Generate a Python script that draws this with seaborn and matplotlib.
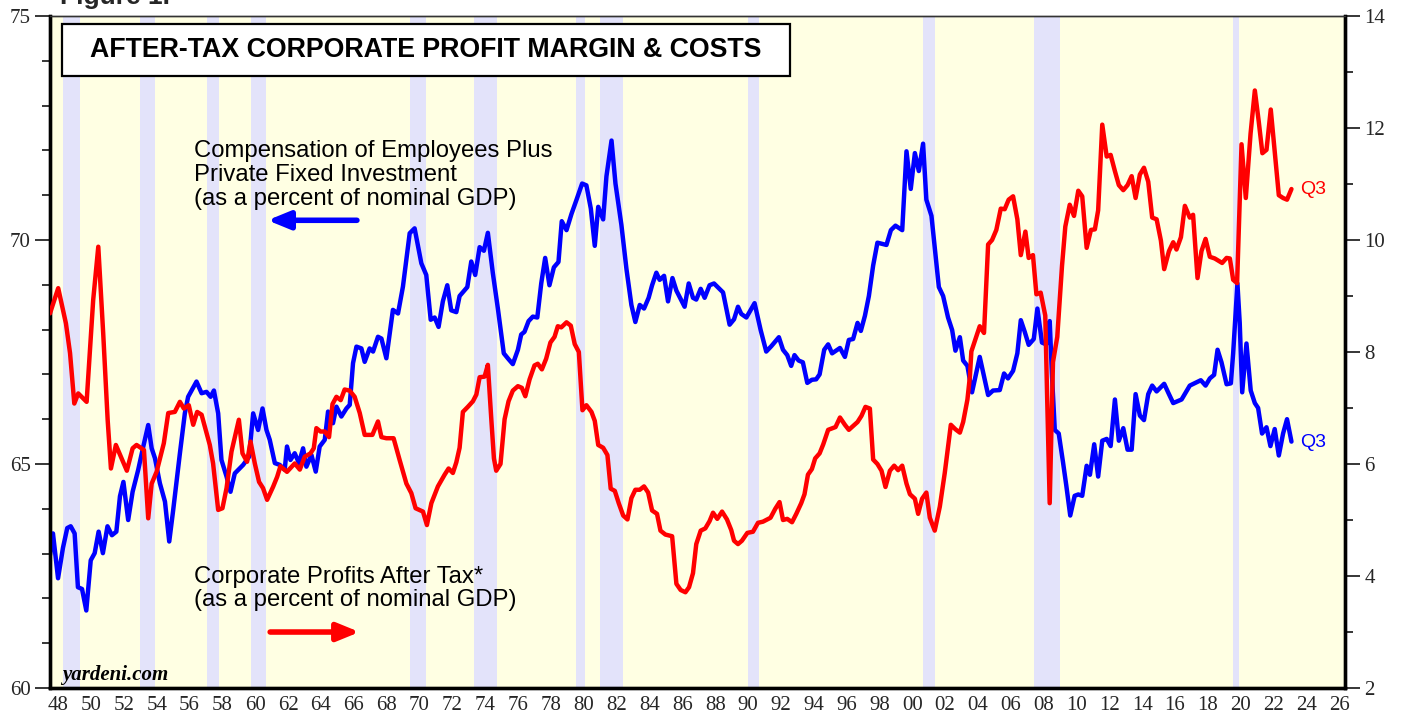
import matplotlib
matplotlib.use("Agg")
import matplotlib.pyplot as plt
from matplotlib.patches import Rectangle
from matplotlib.ticker import MultipleLocator
import seaborn as sns

# Compensation of employees + private fixed investment, % of GDP (left axis)
blue_years = [1948.0, 1948.18, 1948.49, 1948.79, 1949.05, 1949.26, 1949.5, 1949.7, 1949.95, 1950.21,
              1950.48, 1950.72, 1950.96, 1951.22, 1951.5, 1951.77, 1952.04, 1952.26, 1952.47, 1952.76,
              1953.03, 1953.37, 1953.68, 1953.98, 1954.19, 1954.39, 1954.69, 1955.0, 1955.26, 1955.5,
              1955.91, 1956.21, 1956.41, 1956.92, 1957.23, 1957.53, 1957.78, 1957.98, 1958.24, 1958.44,
              1958.75, 1958.99, 1959.25, 1959.76, 1960.12, 1960.37, 1960.67, 1960.94, 1961.18, 1961.38,
              1961.69, 1961.99, 1962.29, 1962.43, 1962.64, 1962.9, 1963.16, 1963.41, 1963.61, 1963.92,
              1964.18, 1964.42, 1964.73, 1964.93, 1965.23, 1965.44, 1965.74, 1966.05, 1966.25, 1966.45,
              1966.66, 1966.96, 1967.16, 1967.46, 1967.67, 1967.97, 1968.18, 1968.48, 1968.88, 1969.19,
              1969.49, 1969.9, 1970.2, 1970.61, 1970.91, 1971.18, 1971.42, 1971.66, 1971.92, 1972.19,
              1972.43, 1972.74, 1972.94, 1973.41, 1973.65, 1973.89, 1974.16, 1974.42, 1974.66, 1974.96,
              1975.27, 1975.63, 1975.92, 1976.18, 1976.49, 1976.69, 1976.89, 1977.14, 1977.4, 1977.67,
              1977.91, 1978.15, 1978.41, 1978.68, 1978.96, 1979.16, 1979.45, 1979.75, 1980.06, 1980.4,
              1980.66, 1980.93, 1981.17, 1981.38, 1981.68, 1981.88, 1982.19, 1982.43, 1982.79, 1983.1,
              1983.4, 1983.64, 1983.91, 1984.17, 1984.45, 1984.66, 1984.92, 1985.12, 1985.39, 1985.63,
              1985.9, 1986.14, 1986.64, 1986.89, 1987.15, 1987.35, 1987.62, 1987.86, 1988.16, 1988.43,
              1988.98, 1989.38, 1989.65, 1989.89, 1990.09, 1990.4, 1990.9, 1991.27, 1991.61, 1991.92,
              1992.38, 1992.63, 1992.89, 1993.13, 1993.33, 1993.58, 1993.84, 1994.11, 1994.39, 1994.65,
              1994.86, 1995.14, 1995.38, 1995.62, 1996.1, 1996.4, 1996.64, 1996.9, 1997.17, 1997.37,
              1997.62, 1997.86, 1998.12, 1998.38, 1998.93, 1999.2, 1999.48, 1999.89, 2000.15, 2000.41,
              2000.66, 2000.9, 2001.16, 2001.36, 2001.67, 2002.12, 2002.38, 2002.68, 2002.93, 2003.13,
              2003.4, 2003.6, 2003.86, 2004.14, 2004.61, 2005.12, 2005.42, 2005.83, 2006.09, 2006.33,
              2006.64, 2006.9, 2007.11, 2007.35, 2007.59, 2007.9, 2008.12, 2008.4, 2008.66, 2008.87,
              2009.01, 2009.18, 2009.42, 2009.68, 2009.88, 2010.12, 2010.39, 2010.61, 2010.85, 2011.12,
              2011.32, 2011.58, 2011.82, 2012.07, 2012.34, 2012.58, 2012.84, 2013.08, 2013.35, 2013.61,
              2013.86, 2014.1, 2014.36, 2014.61, 2014.87, 2015.11, 2015.38, 2015.84, 2016.13, 2016.39,
              2016.9, 2017.4, 2018.07, 2018.36, 2018.62, 2018.88, 2019.09, 2019.33, 2019.64, 2019.9,
              2020.04, 2020.3, 2020.44, 2020.59, 2020.85, 2021.11, 2021.36, 2021.56, 2021.8, 2022.07,
              2022.31, 2022.57, 2022.82, 2023.08, 2023.32, 2023.59]
blue_vals = [62.97, 63.45, 62.45, 63.13, 63.57, 63.61, 63.45, 62.25, 62.21, 61.73,
             62.85, 63.01, 63.49, 63.01, 63.61, 63.41, 63.49, 64.28, 64.6, 63.75,
             64.38, 64.87, 65.39, 65.87, 65.35, 65.13, 64.57, 64.16, 63.27, 63.97,
             65.24, 66.13, 66.5, 66.84, 66.58, 66.61, 66.5, 66.64, 66.13, 65.09,
             64.72, 64.38, 64.79, 64.98, 65.16, 66.13, 65.76, 66.24, 65.76, 65.54,
             65.02, 64.98, 64.87, 65.39, 65.09, 65.24, 65.02, 65.35, 64.94, 65.2,
             64.83, 65.39, 65.54, 66.17, 65.91, 66.28, 66.06, 66.24, 66.32, 67.25,
             67.62, 67.58, 67.28, 67.58, 67.51, 67.84, 67.8, 67.36, 68.44, 68.36,
             68.96, 70.15, 70.26, 69.48, 69.22, 68.22, 68.27, 68.06, 68.63, 68.99,
             68.43, 68.39, 68.75, 68.95, 69.52, 69.22, 69.84, 69.76, 70.16, 69.27,
             68.47, 67.47, 67.34, 67.23, 67.55, 67.89, 67.95, 68.19, 68.29, 68.27,
             69.03, 69.6, 68.99, 69.39, 69.51, 70.42, 70.22, 70.58, 70.9, 71.26,
             71.22, 70.7, 69.87, 70.74, 70.46, 71.42, 72.22, 71.26, 70.34, 69.35,
             68.55, 68.17, 68.55, 68.47, 68.71, 68.99, 69.27, 69.11, 69.2, 68.63,
             69.15, 68.87, 68.51, 69.03, 68.71, 68.67, 68.91, 68.71, 68.99, 69.03,
             68.83, 68.11, 68.23, 68.51, 68.35, 68.27, 68.59, 67.99, 67.51, 67.63,
             67.83, 67.55, 67.43, 67.19, 67.43, 67.31, 67.27, 66.81, 66.88, 66.89,
             67.0, 67.55, 67.67, 67.47, 67.59, 67.39, 67.77, 67.79, 68.15, 67.97,
             68.31, 68.75, 69.43, 69.94, 69.89, 70.22, 70.32, 70.22, 71.98, 71.14,
             71.94, 71.54, 72.15, 70.9, 70.54, 68.95, 68.75, 68.27, 67.99, 67.53,
             67.83, 67.31, 67.19, 66.6, 67.39, 66.54, 66.64, 66.65, 67.02, 66.91,
             67.08, 67.47, 68.21, 67.95, 67.66, 67.79, 68.47, 67.71, 67.67, 68.19,
             66.96, 65.76, 65.68, 65.04, 64.52, 63.85, 64.29, 64.32, 64.29, 64.96,
             64.76, 65.44, 64.72, 65.52, 65.56, 65.4, 66.44, 65.52, 65.8, 65.32,
             65.32, 66.56, 66.08, 65.98, 66.56, 66.75, 66.62, 66.79, 66.56, 66.36,
             66.44, 66.75, 66.87, 66.75, 66.91, 66.99, 67.55, 67.27, 66.78, 66.8,
             67.47, 69.03, 68.15, 66.6, 67.69, 66.64, 66.36, 66.25, 65.68, 65.82,
             65.4, 65.78, 65.19, 65.68, 66.0, 65.5]

# Corporate profits after tax, % of GDP (right axis)
red_years = [1948.0, 1948.5, 1948.97, 1949.22, 1949.48, 1949.72, 1950.23, 1950.63, 1950.94, 1951.24,
             1951.51, 1951.71, 1952.01, 1952.68, 1953.03, 1953.27, 1953.72, 1953.98, 1954.19, 1954.49,
             1954.93, 1955.2, 1955.6, 1955.91, 1956.15, 1956.45, 1956.72, 1956.96, 1957.23, 1957.73,
             1957.93, 1958.24, 1958.5, 1958.75, 1959.05, 1959.5, 1959.72, 1960.0, 1960.21, 1960.47,
             1960.73, 1960.97, 1961.22, 1961.58, 1961.83, 1962.03, 1962.43, 1962.9, 1963.21, 1963.51,
             1963.86, 1964.06, 1964.22, 1964.47, 1964.73, 1964.99, 1965.2, 1965.44, 1965.7, 1965.94,
             1966.25, 1966.55, 1966.86, 1967.16, 1967.63, 1967.97, 1968.18, 1968.48, 1968.92, 1969.29,
             1969.7, 1970.0, 1970.26, 1970.71, 1970.95, 1971.22, 1971.62, 1972.03, 1972.27, 1972.53,
             1972.74, 1972.94, 1973.14, 1973.44, 1973.75, 1973.96, 1974.16, 1974.46, 1974.66, 1974.87,
             1975.03, 1975.17, 1975.43, 1975.68, 1975.92, 1976.18, 1976.49, 1976.73, 1976.94, 1977.2,
             1977.5, 1977.7, 1977.95, 1978.21, 1978.47, 1978.72, 1978.92, 1979.13, 1979.45, 1979.71,
             1979.95, 1980.2, 1980.32, 1980.42, 1980.66, 1980.97, 1981.17, 1981.38, 1981.68, 1981.94,
             1982.14, 1982.39, 1982.63, 1982.9, 1983.16, 1983.4, 1983.64, 1983.91, 1984.17, 1984.42,
             1984.66, 1984.96, 1985.17, 1985.47, 1985.88, 1986.14, 1986.4, 1986.69, 1986.91, 1987.15,
             1987.35, 1987.62, 1987.9, 1988.16, 1988.37, 1988.63, 1988.92, 1989.22, 1989.48, 1989.65,
             1989.89, 1990.13, 1990.46, 1990.8, 1991.11, 1991.41, 1991.87, 1992.16, 1992.42, 1992.63,
             1992.89, 1993.18, 1993.44, 1993.74, 1993.94, 1994.15, 1994.39, 1994.59, 1994.86, 1995.08,
             1995.38, 1995.83, 1996.1, 1996.4, 1996.64, 1997.17, 1997.41, 1997.65, 1997.92, 1998.12,
             1998.38, 1998.63, 1998.87, 1999.14, 1999.4, 1999.64, 1999.89, 2000.15, 2000.36, 2000.66,
             2000.86, 2001.1, 2001.36, 2001.57, 2001.87, 2002.18, 2002.48, 2002.85, 2003.13, 2003.4,
             2003.6, 2003.86, 2004.01, 2004.1, 2004.35, 2004.61, 2004.87, 2005.12, 2005.36, 2005.62,
             2005.89, 2006.13, 2006.37, 2006.64, 2006.9, 2007.11, 2007.39, 2007.59, 2007.85, 2008.06,
             2008.32, 2008.6, 2008.72, 2008.87, 2009.07, 2009.33, 2009.62, 2009.82, 2010.09, 2010.35,
             2010.61, 2010.85, 2011.12, 2011.38, 2011.62, 2011.82, 2012.07, 2012.34, 2012.58, 2012.84,
             2013.08, 2013.35, 2013.61, 2013.86, 2014.1, 2014.36, 2014.61, 2014.87, 2015.11, 2015.38,
             2015.64, 2015.84, 2016.13, 2016.39, 2016.59, 2016.86, 2017.1, 2017.4, 2017.6, 2017.87,
             2018.11, 2018.36, 2018.62, 2018.92, 2019.37, 2019.64, 2019.84, 2020.04, 2020.28, 2020.55,
             2020.81, 2021.1, 2021.36, 2021.6, 2021.82, 2022.07, 2022.33, 2022.57, 2022.82, 2023.08,
             2023.32, 2023.59]
red_vals = [8.69, 9.14, 8.51, 7.98, 7.08, 7.26, 7.11, 8.93, 9.88, 8.33,
            6.79, 5.92, 6.34, 5.88, 6.28, 6.34, 6.25, 5.03, 5.65, 5.86,
            6.37, 6.91, 6.93, 7.11, 6.99, 7.05, 6.7, 6.93, 6.88, 6.34,
            6.01, 5.18, 5.21, 5.57, 6.22, 6.79, 6.19, 6.04, 6.4, 6.01,
            5.68, 5.57, 5.36, 5.59, 5.77, 5.96, 5.86, 6.01, 5.9, 6.13,
            6.19, 6.28, 6.64, 6.58, 6.58, 6.48, 7.07, 7.2, 7.14, 7.33,
            7.31, 7.2, 6.91, 6.52, 6.52, 6.76, 6.48, 6.46, 6.46, 6.07,
            5.65, 5.48, 5.21, 5.15, 4.91, 5.3, 5.6, 5.81, 5.92, 5.84,
            6.03, 6.29, 6.93, 7.02, 7.12, 7.24, 7.55, 7.56, 7.77, 6.8,
            6.1, 5.88, 6.0, 6.8, 7.12, 7.31, 7.39, 7.36, 7.21, 7.51,
            7.76, 7.79, 7.69, 7.88, 8.17, 8.27, 8.46, 8.44, 8.53, 8.47,
            8.14, 8.0, 7.44, 6.96, 7.05, 6.93, 6.77, 6.34, 6.29, 6.16,
            5.56, 5.52, 5.3, 5.08, 5.01, 5.39, 5.54, 5.54, 5.6, 5.49,
            5.17, 5.11, 4.81, 4.74, 4.71, 3.86, 3.75, 3.71, 3.8, 4.05,
            4.57, 4.81, 4.85, 4.98, 5.13, 5.02, 5.15, 5.01, 4.82, 4.63,
            4.57, 4.63, 4.77, 4.79, 4.95, 4.97, 5.04, 5.2, 5.32, 5.0,
            5.02, 4.96, 5.11, 5.3, 5.46, 5.81, 5.91, 6.1, 6.19, 6.35,
            6.61, 6.66, 6.83, 6.7, 6.61, 6.75, 6.86, 7.02, 6.99, 6.08,
            6.0, 5.88, 5.59, 5.88, 5.97, 5.89, 5.97, 5.65, 5.46, 5.38,
            5.11, 5.38, 5.49, 5.04, 4.81, 5.24, 5.84, 6.7, 6.62, 6.56,
            6.75, 7.15, 7.56, 8.01, 8.23, 8.46, 8.34, 9.92, 10.0, 10.18,
            10.56, 10.55, 10.72, 10.78, 10.37, 9.73, 10.15, 9.68, 9.73, 9.03,
            9.06, 8.65, 7.12, 5.3, 7.82, 8.27, 9.54, 10.24, 10.63, 10.43,
            10.88, 10.78, 9.86, 10.18, 10.19, 10.53, 12.06, 11.49, 11.52, 11.23,
            10.98, 10.89, 10.98, 11.14, 10.75, 11.17, 11.29, 11.04, 10.4, 10.37,
            9.99, 9.48, 9.8, 9.96, 9.83, 10.05, 10.61, 10.4, 10.45, 9.32,
            9.8, 10.02, 9.7, 9.67, 9.59, 9.68, 9.67, 9.29, 9.23, 11.71,
            10.75, 11.9, 12.67, 12.11, 11.55, 11.61, 12.33, 11.58, 10.8, 10.75,
            10.72, 10.91]

# recessions (shaded)
rec_start = [1948.8, 1953.5, 1957.57, 1960.25, 1969.92, 1973.83, 1980.0, 1981.5, 1990.5, 2001.17, 2007.92, 2020.05]
rec_end = [1949.8, 1954.37, 1958.32, 1961.18, 1970.87, 1975.2, 1980.55, 1982.9, 1991.2, 2001.9, 2009.5, 2020.37]

year_ticks = list(range(1948, 2027))
label_years = list(range(1948, 2027, 2))
label_text = [f"{y % 100:02d}" for y in label_years]

sns.set_theme(style="white")
plt.rcParams['font.family'] = ['Liberation Sans', 'DejaVu Sans']
serif = ['Liberation Serif', 'DejaVu Serif']

fig = plt.figure(figsize=(14.05, 7.19), dpi=100)
fig.patch.set_facecolor('white')
ax = fig.add_axes([50 / 1405, 31 / 719, 1295 / 1405, 672 / 719])
ax.set_facecolor('#FFFFE3')
ax2 = ax.twinx()

for s, e in zip(rec_start, rec_end):
    ax.axvspan(s, e, color='#E3E3FA', lw=0, zorder=0)

sns.lineplot(x=blue_years, y=blue_vals, ax=ax, color='#0000FF', linewidth=3.2, zorder=3)
sns.lineplot(x=red_years, y=red_vals, ax=ax2, color='#FF0000', linewidth=3.2, zorder=3)

ax.set_xlim(1948.0, 2026.85)
ax.set_ylim(60, 75)
ax2.set_ylim(2, 14)
ax.set_xlabel("")
ax.set_ylabel("")
ax2.set_ylabel("")

# y ticks
ax.set_yticks([60, 65, 70, 75])
ax.yaxis.set_minor_locator(MultipleLocator(1))
ax2.set_yticks(list(range(2, 15, 2)))
ax2.yaxis.set_minor_locator(MultipleLocator(1))
for a in (ax, ax2):
    a.tick_params(axis='y', which='major', direction='out', length=11, width=1.1,
                  color='black', labelsize=15, pad=3)
    a.tick_params(axis='y', which='minor', direction='out', length=5.5, width=1.1,
                  color='black')
    for lab in a.get_yticklabels():
        lab.set_family(serif)

# x ticks: tick per year, labels centred in the year
ax.set_xticks(year_ticks)
ax.set_xticklabels([])
ax.set_xticks([y + 0.5 for y in label_years], minor=True)
ax.set_xticklabels(label_text, minor=True, family=serif, fontsize=15)
ax.tick_params(axis='x', which='major', direction='out', length=5.5, width=1.6, color='black')
ax.tick_params(axis='x', which='minor', length=0, pad=6)
ax2.tick_params(axis='x', which='both', length=0)

for a in (ax, ax2):
    for name in ('left', 'bottom', 'right'):
        a.spines[name].set_linewidth(2.4)
        a.spines[name].set_color('black')
    a.spines['top'].set_linewidth(1.0)
    a.spines['top'].set_color('#333333')
ax.grid(False)
ax2.grid(False)

# title box
ax2.add_patch(Rectangle((0.0093, 0.911), 0.562, 0.077, transform=ax2.transAxes,
                        facecolor='white', edgecolor='black', lw=1.6, zorder=6))
ax2.text(0.0093 + 0.281, 0.9495, "AFTER-TAX CORPORATE PROFIT MARGIN & COSTS",
         transform=ax2.transAxes, ha='center', va='center', fontsize=19.3,
         fontweight='bold', color='black', zorder=7)

# series notes and arrows
ax2.text(0.111, 0.8155, "Compensation of Employees Plus\nPrivate Fixed Investment\n(as a percent of nominal GDP)",
         transform=ax2.transAxes, ha='left', va='top', fontsize=17.2, linespacing=1.13, color='black')
ax2.annotate("", xy=(0.168, 0.696), xytext=(0.237, 0.696), xycoords='axes fraction',
             textcoords='axes fraction',
             arrowprops=dict(arrowstyle='-|>,head_length=1.1,head_width=0.45', color='#0000FF',
                             lw=4, shrinkA=0, shrinkB=0))
ax2.text(0.111, 0.182, "Corporate Profits After Tax*\n(as a percent of nominal GDP)",
         transform=ax2.transAxes, ha='left', va='top', fontsize=17.2, linespacing=1.08, color='black')
ax2.annotate("", xy=(0.239, 0.0833), xytext=(0.170, 0.0833), xycoords='axes fraction',
             textcoords='axes fraction',
             arrowprops=dict(arrowstyle='-|>,head_length=1.1,head_width=0.45', color='#FF0000',
                             lw=4, shrinkA=0, shrinkB=0))

# Q3 end labels
ax2.annotate("Q3", xy=(red_years[-1], red_vals[-1]), xytext=(6, 0), textcoords='offset points',
             va='center', ha='left', fontsize=14, color='#FF0000')
ax.annotate("Q3", xy=(blue_years[-1], blue_vals[-1]), xytext=(6, -1), textcoords='offset points',
            va='center', ha='left', fontsize=14, color='#0000FF', zorder=5)

ax2.text(0.0093, 0.012, "yardeni.com", transform=ax2.transAxes, ha='left', va='baseline',
         fontsize=15, fontweight='bold', style='italic', family=serif, color='black')

fig.text(0.043, 1.004, "Figure 1.", ha='left', va='center', fontsize=19, fontweight='bold')

fig.savefig("out.png", dpi=100)
